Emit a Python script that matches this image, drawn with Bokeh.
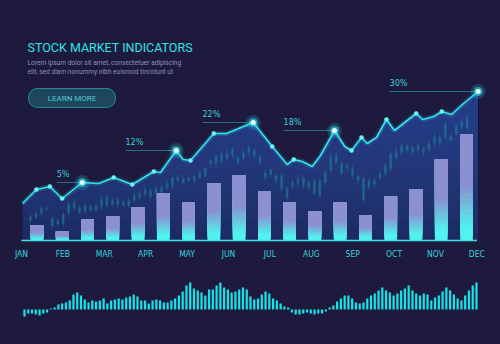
import numpy as np
from bokeh.plotting import figure
from bokeh.layouts import column
from bokeh.models import Range1d, FixedTicker, BoxAnnotation
from bokeh.core.properties import value
from bokeh.embed import file_html
from bokeh.resources import INLINE

# ---------------- data ----------------
months = ["JAN", "FEB", "MAR", "APR", "MAY", "JUN",
          "JUL", "AUG", "SEP", "OCT", "NOV", "DEC"]

bar_values = [15, 9, 21, 24, 33, 47, 38, 57, 65, 49, 38, 29, 38, 25, 44, 51, 81, 106]

line_x = [0.024, 0.362, 0.684, 0.983, 1.466, 1.867, 2.229, 2.674, 3.196, 3.357,
          3.737, 3.906, 4.082, 4.645, 4.952, 5.597, 6.056, 6.418, 6.577, 6.780,
          7.022, 7.222, 7.560, 7.809, 7.971, 8.213, 8.350, 8.575, 8.816, 9.010,
          9.316, 9.534, 9.693, 9.959, 10.152, 10.386, 10.676, 11.031]
line_y = [37, 51, 54, 42, 58, 57, 63, 56, 69, 68,
          90, 81, 80, 107, 107, 118, 94, 76, 81, 79,
          74, 85, 110, 94, 90, 103, 97, 103, 121, 110,
          120, 127, 121, 124, 129, 126, 137, 149]
dot_idx = [1, 2, 3, 6, 7, 8, 12, 13, 16, 18, 24, 25, 28, 31, 34]
highlight_idx = [4, 10, 15, 22, 37]
highlight_labels = ["5%", "12%", "22%", "18%", "30%"]
callout_from = [0.85, 2.51, 4.37, 6.33, 8.89]

candle_close = [24, 27, 32, 32, 22, 20, 26, 36, 38, 33, 35, 34, 35, 41, 43, 40, 41, 39, 40, 46,
                47, 51, 50, 52, 53, 57, 63, 63, 62, 63, 64, 68, 72, 80, 85, 87, 87, 91, 83, 88,
                93, 90, 83, 68, 71, 65, 65, 52, 58, 62, 63, 58, 60, 60, 68, 85, 85, 77, 75, 72,
                64, 62, 60, 60, 67, 75, 87, 90, 95, 95, 93, 95, 92, 97, 104, 103, 117, 104, 114, 119, 122]
candle_open = [20, 23, 27, 31, 14, 16, 17, 27, 32, 28, 29, 30, 30, 34, 35, 36, 36, 35, 35, 40,
               43, 46, 44, 47, 48, 53, 55, 60, 58, 60, 60, 63, 65, 77, 77, 79, 82, 85, 78, 82,
               88, 85, 78, 63, 66, 60, 52, 43, 54, 57, 55, 53, 47, 45, 58, 70, 78, 67, 72, 65,
               60, 40, 53, 56, 63, 67, 72, 83, 88, 90, 88, 90, 88, 91, 97, 97, 103, 100, 106, 113, 112]
candle_high = [27, 30, 35, 34, 25, 23, 29, 39, 41, 36, 38, 37, 38, 44, 46, 43, 44, 42, 43, 49,
               50, 54, 53, 55, 56, 60, 66, 66, 65, 66, 67, 71, 75, 83, 88, 90, 90, 94, 86, 91,
               96, 93, 86, 71, 74, 68, 68, 55, 61, 65, 66, 61, 63, 63, 71, 88, 88, 80, 78, 75,
               67, 65, 63, 63, 70, 78, 90, 93, 98, 98, 96, 98, 95, 100, 107, 106, 120, 107, 117, 122, 125]
candle_low = [17, 21, 25, 29, 11, 14, 14, 24, 30, 26, 27, 28, 28, 31, 33, 34, 33, 33, 32, 37,
              41, 44, 41, 45, 46, 50, 52, 58, 56, 58, 57, 61, 62, 74, 74, 76, 80, 82, 75, 79,
              85, 82, 75, 60, 63, 57, 49, 40, 51, 54, 52, 50, 44, 42, 55, 67, 75, 64, 69, 62,
              57, 37, 50, 53, 60, 64, 69, 80, 85, 87, 85, 87, 85, 88, 94, 94, 100, 97, 103, 110, 109]

hist_values = [-7, -4, -4, -5, -6, -4, -3,
               1, 2, 5, 6, 7, 9, 15, 17, 14, 10, 7, 9, 8, 9, 11, 6, 9, 10, 11, 10, 12, 13, 15, 13,
               9, 9, 6, 9, 10, 9, 7, 7, 9, 11, 14, 18, 24, 27, 21, 19, 17, 14, 20, 20, 24, 27, 22,
               20, 17, 18, 20, 22, 20, 13, 10, 11, 15, 18, 16, 11, 9, 6, 3, 2,
               -3, -5, -5, -4, -3, -4, -5, -4, -4, -2,
               2, 4, 8, 11, 14, 14, 11, 7, 6, 7, 11, 14, 16, 19, 22, 19, 17, 14, 16, 19, 21, 24,
               19, 16, 14, 16, 15, 9, 12, 14, 18, 22, 19, 15, 11, 9, 14, 19, 24, 27]

# ---------------- styling ----------------
BG = "#1d1a3d"
CYAN = "#34e3ef"
TFONT = "Roboto"
CFONT = "DejaVu Sans Condensed"

xr = Range1d(-0.507, 11.570)

p = figure(width=500, height=262, x_range=xr, y_range=Range1d(-4, 240),
           x_axis_location="below", y_axis_location=None,
           toolbar_location=None, output_backend="svg",
           min_border_left=0, min_border_right=0, min_border_top=0, min_border_bottom=18,
           styles={"background-color": BG})
p.background_fill_color = BG
p.border_fill_color = BG
p.outline_line_color = BG
p.outline_line_width = 2
p.grid.visible = False

ax = p.xaxis[0]
ax.ticker = FixedTicker(ticks=list(range(len(months))))
ax.major_label_overrides = {i: m for i, m in enumerate(months)}
ax.axis_line_color = None
ax.major_tick_line_color = None
ax.minor_tick_line_color = None
ax.major_tick_out = 0
ax.major_tick_in = 0
ax.minor_tick_out = 0
ax.major_label_standoff = 4
ax.major_label_text_color = "#35d4df"
ax.major_label_text_font = CFONT
ax.major_label_text_font_size = "8.5px"

# area under the line with vertical gradient (layered)
lx = np.array(line_x)
ly = np.array(line_y, dtype=float)
p.varea(x=lx, y1=np.zeros_like(ly), y2=ly, fill_color="#1b2a62", fill_alpha=0.95)
for lvl in range(0, 150, 10):
    p.varea(x=lx, y1=np.minimum(lvl, ly), y2=ly, fill_color="#2d58ad", fill_alpha=0.06)

# candlesticks
cx = np.linspace(0.217, 10.766, len(candle_close))
p.segment(x0=cx, y0=candle_low, x1=cx, y1=candle_high, line_color="#1d8098", line_alpha=0.45, line_width=1)
p.vbar(x=cx, width=0.062, bottom=candle_open, top=candle_close,
       fill_color="#1d8098", fill_alpha=0.55, line_color=None)

# gradient bars
bx = np.linspace(0.374, 10.749, len(bar_values))
bv = np.array(bar_values, dtype=float)
c_bot = np.array([0x52, 0xf2, 0xee])
c_top = np.array([0x8c, 0x8f, 0xd0])
N = 20
for k in range(N):
    f = (k + 0.5) / N
    t = min(max((f - 0.12) / 0.4, 0.0), 1.0)
    c = (c_bot * (1 - t) + c_top * t).astype(int)
    col = "#%02x%02x%02x" % tuple(c)
    p.vbar(x=bx, width=0.307, bottom=bv * k / N, top=bv, fill_color=col, line_color=None)

# baseline
p.line(x=[0, len(months) - 1], y=[0, 0], line_color="#3de6e6", line_width=1.6)

# line with glow
p.line(lx, ly, line_color=CYAN, line_width=5, line_alpha=0.15)
p.line(lx, ly, line_color=CYAN, line_width=1.6)
p.scatter(lx[dot_idx], ly[dot_idx], size=4.5, fill_color="#6cf2f8", line_color=None)

hx = lx[highlight_idx]
hy = ly[highlight_idx]
p.segment(x0=callout_from, y0=hy, x1=hx, y1=hy, line_color="#2fb6c4", line_alpha=0.55, line_width=1)
p.text(x=np.array(callout_from), y=hy + 4, text=highlight_labels, text_align="left",
       text_baseline="bottom", text_font=value(CFONT), text_font_size="9px", text_color="#3ccfd9")
p.scatter(hx, hy, size=15, fill_color=CYAN, fill_alpha=0.18, line_color=None)
p.scatter(hx, hy, size=9, fill_color=CYAN, fill_alpha=0.55, line_color=None)
p.scatter(hx, hy, size=5, fill_color="#e4ffff", line_color=None)

# header texts
p.text(x=[0.145], y=[193], text=["STOCK MARKET INDICATORS"], text_align="left",
       text_baseline="middle", text_font=value(TFONT), text_font_size="12.5px", text_color="#2fe3e8")
p.text(x=[0.145, 0.145], y=[178, 169],
       text=["Lorem ipsum dolor sit amet, consectetuer adipiscing",
             "elit, sed diam nonummy nibh euismod tincidunt ut"],
       text_align="left", text_baseline="middle", text_font=value(TFONT),
       text_font_size="6.6px", text_color="#8c90b4")
p.add_layout(BoxAnnotation(left=0.169, right=2.271, bottom=133, top=152,
                           fill_color="#1e4c60", fill_alpha=0.9,
                           line_color="#3aa8b8", line_alpha=0.7, line_width=1,
                           border_radius=9, level="underlay"))
p.text(x=[1.22], y=[142.5], text=["LEARN MORE"], text_align="center", text_baseline="middle",
       text_font=value(TFONT), text_font_size="8px", text_color="#52c8d8")

# ---------------- bottom histogram ----------------
q = figure(width=500, height=82, x_range=xr, y_range=Range1d(-35, 47),
           x_axis_location=None, y_axis_location=None,
           toolbar_location=None, output_backend="svg", min_border=0,
           styles={"background-color": BG})
q.background_fill_color = BG
q.border_fill_color = BG
q.outline_line_color = None
q.grid.visible = False
hxs = np.linspace(0.0725, 10.990, len(hist_values))
q.vbar(x=hxs, width=0.054, bottom=0, top=hist_values, fill_color="#17e3e6", line_color=None)

layout = column(p, q, spacing=0, styles={"background-color": BG})
open("out.html", "w").write(file_html(layout, INLINE))
